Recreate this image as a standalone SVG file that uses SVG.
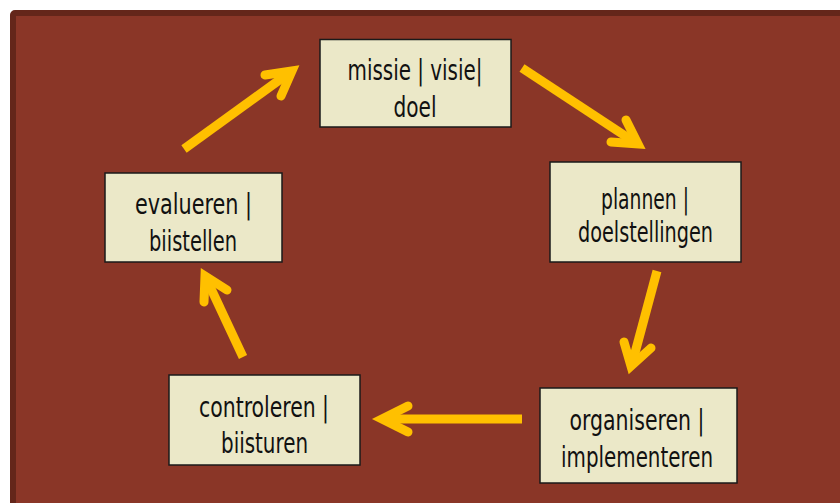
<svg xmlns="http://www.w3.org/2000/svg" width="840" height="503" viewBox="0 0 840 503">
<style>
.node rect{fill:#EBE8C8;stroke:#1A1A1A;stroke-width:1.5}
.node text{font-family:"DejaVu Sans Condensed","DejaVu Sans",sans-serif;font-stretch:condensed;font-size:28px;fill:#111;text-anchor:middle}
.arr line{stroke:#FFC000;stroke-width:9;stroke-linecap:butt}
.arr path{fill:none;stroke:#FFC000;stroke-width:9;stroke-linecap:round;stroke-linejoin:miter;stroke-miterlimit:10}
</style>
<rect x="0" y="0" width="840" height="503" fill="#FFFFFF"/>
<rect x="13" y="13" width="840" height="500" rx="2" fill="#8A3627" stroke="#64261A" stroke-width="6"/>
<g id="connectors" class="arr">
<line x1="184" y1="149" x2="289" y2="73"/>
<path d="M265,75 L292,71 L281,96"/>
<line x1="522" y1="68" x2="636" y2="143"/>
<path d="M626,120 L638,144 L611,142"/>
<line x1="657" y1="271" x2="632" y2="364"/>
<path d="M624,342 L631,366 L651,348"/>
<line x1="522" y1="419" x2="384" y2="419"/>
<path d="M408,406 L382,419 L408,432"/>
<line x1="243" y1="357" x2="206" y2="278"/>
<path d="M204,302 L205,276 L227,290"/>
</g>
<g id="node-missie" class="node">
<rect x="320" y="39.5" width="191" height="87.5"/>
<text x="415" y="80" textLength="135" lengthAdjust="spacingAndGlyphs">missie | visie|</text>
<text x="415" y="117" textLength="43" lengthAdjust="spacingAndGlyphs">doel</text>
</g>
<g id="node-plannen" class="node">
<rect x="550" y="162" width="191" height="100"/>
<text x="645" y="209" textLength="88" lengthAdjust="spacingAndGlyphs">plannen |</text>
<text x="645.5" y="242" textLength="135" lengthAdjust="spacingAndGlyphs">doelstellingen</text>
</g>
<g id="node-organiseren" class="node">
<rect x="540" y="388" width="197" height="95"/>
<text x="637" y="430" textLength="135" lengthAdjust="spacingAndGlyphs">organiseren |</text>
<text x="637" y="467" textLength="152" lengthAdjust="spacingAndGlyphs">implementeren</text>
</g>
<g id="node-controleren" class="node">
<rect x="169" y="375" width="191" height="90"/>
<text x="264" y="417" textLength="130" lengthAdjust="spacingAndGlyphs">controleren |</text>
<text x="264.5" y="453" textLength="87" lengthAdjust="spacingAndGlyphs">biisturen</text>
</g>
<g id="node-evalueren" class="node">
<rect x="105" y="173" width="177" height="89"/>
<text x="193.5" y="214" textLength="117" lengthAdjust="spacingAndGlyphs">evalueren  |</text>
<text x="193" y="251" textLength="88" lengthAdjust="spacingAndGlyphs">biistellen</text>
</g>
</svg>
